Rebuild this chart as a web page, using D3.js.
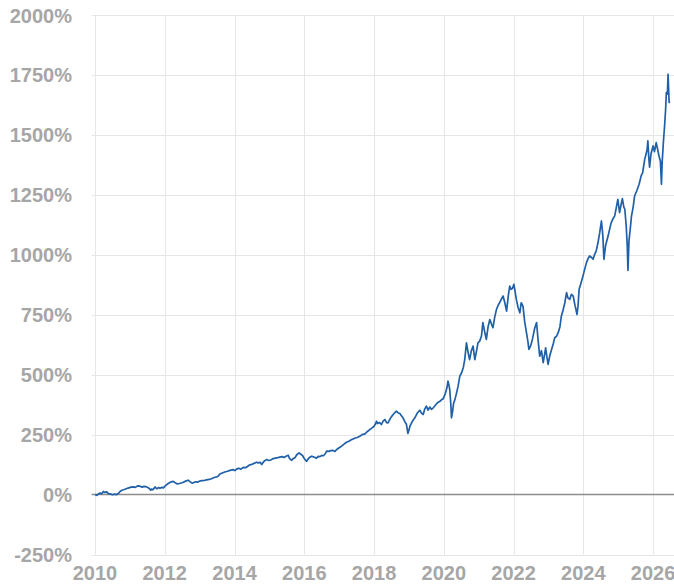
<!DOCTYPE html>
<html>
<head>
<meta charset="utf-8">
<script src="https://cdn.jsdelivr.net/npm/d3@7"></script>
<style>
  html, body { margin: 0; padding: 0; background: #fff; }
  svg { display: block; }
  .tick-label { font-family: "Liberation Sans", Arial, sans-serif; font-weight: bold; font-size: 20px; fill: #a6a6a6; }
</style>
</head>
<body>
<svg id="chart" width="674" height="585"></svg>
<script>
// Cumulative return series: decimal year and percent gain
const years = [
  2010.00,2010.05,2010.09,2010.15,2010.20,2010.24,2010.29,2010.34,2010.38,2010.43,2010.50,2010.56,2010.62,2010.68,2010.72,2010.77,2010.84,2010.91,2010.97,
  2011.03,2011.10,2011.16,2011.22,2011.29,2011.35,2011.41,2011.48,2011.55,2011.60,2011.62,2011.66,2011.72,2011.77,2011.82,2011.86,2011.92,2011.96,
  2012.03,2012.10,2012.17,2012.24,2012.30,2012.36,2012.42,2012.48,2012.53,2012.60,2012.67,2012.72,2012.78,2012.82,2012.88,2012.95,
  2013.01,2013.08,2013.14,2013.20,2013.27,2013.34,2013.40,2013.44,2013.50,2013.53,2013.58,2013.65,2013.72,2013.80,2013.87,2013.95,
  2014.01,2014.06,2014.12,2014.18,2014.25,2014.32,2014.38,2014.44,2014.50,2014.56,2014.63,2014.68,2014.74,2014.78,2014.84,2014.92,2014.98,
  2015.04,2015.11,2015.17,2015.24,2015.30,2015.36,2015.42,2015.48,2015.54,2015.58,2015.64,2015.68,2015.73,2015.78,2015.85,2015.90,2015.95,
  2016.00,2016.05,2016.07,2016.12,2016.16,2016.21,2016.27,2016.35,2016.40,2016.45,2016.50,2016.55,2016.60,2016.64,2016.70,2016.76,2016.83,2016.88,2016.93,
  2017.00,2017.07,2017.14,2017.21,2017.28,2017.34,2017.40,2017.46,2017.52,2017.59,2017.66,2017.74,2017.80,2017.88,2017.94,2017.99,
  2018.04,2018.07,2018.10,2018.12,2018.16,2018.21,2018.26,2018.31,2018.36,2018.40,2018.46,2018.50,2018.55,2018.60,2018.64,2018.70,2018.74,2018.78,2018.83,2018.88,2018.93,2018.97,
  2019.00,2019.03,2019.08,2019.12,2019.17,2019.24,2019.28,2019.31,2019.36,2019.41,2019.45,2019.50,2019.55,2019.60,2019.65,2019.70,2019.74,2019.80,2019.85,2019.89,2019.94,2019.98,
  2020.04,2020.09,2020.12,2020.15,2020.17,2020.20,2020.22,2020.25,2020.28,2020.32,2020.36,2020.41,2020.46,2020.51,2020.56,2020.60,2020.65,2020.70,2020.74,2020.79,2020.84,2020.89,2020.94,2020.98,
  2021.03,2021.08,2021.12,2021.17,2021.22,2021.27,2021.32,2021.37,2021.41,2021.46,2021.51,2021.56,2021.60,2021.65,2021.70,2021.75,2021.80,2021.85,2021.89,2021.93,2021.97,
  2022.01,2022.04,2022.08,2022.13,2022.18,2022.22,2022.27,2022.32,2022.37,2022.41,2022.44,2022.49,2022.54,2022.60,2022.66,2022.70,2022.75,2022.80,2022.85,2022.89,2022.92,2022.96,2022.99,
  2023.04,2023.09,2023.14,2023.18,2023.23,2023.28,2023.33,2023.37,2023.42,2023.47,2023.52,2023.56,2023.61,2023.66,2023.71,2023.76,2023.82,2023.85,2023.88,2023.93,2023.99,
  2024.04,2024.09,2024.14,2024.18,2024.23,2024.28,2024.32,2024.37,2024.42,2024.47,2024.52,2024.56,2024.59,2024.64,2024.71,2024.76,2024.80,2024.85,2024.90,2024.95,2024.99,
  2025.04,2025.09,2025.12,2025.16,2025.19,2025.23,2025.26,2025.28,2025.31,2025.34,2025.38,2025.43,2025.47,2025.53,2025.60,2025.66,2025.70,2025.76,2025.80,2025.83,2025.85,2025.88,2025.90,2025.94,
  2026.00,2026.04,2026.09,2026.13,2026.17,2026.21,2026.24,2026.26,2026.30,2026.33,2026.36,2026.38,2026.41,2026.43,2026.46,2026.48
];
const values = [
  0,-3,2,6,4,13,9,11,4,3,-1,2,0,6,13,18,21,25,28,
  31,32,30,36,35,31,34,32,26,18,23,20,32,24,29,26,30,28,
  38,46,52,55,49,44,46,48,51,56,60,54,48,49,53,52,
  57,58,59,61,63,66,70,72,74,77,86,90,94,97,101,104,
  100,106,110,106,113,112,118,124,126,130,135,132,134,125,138,146,142,
  144,150,152,154,156,158,155,160,164,150,143,150,153,165,174,168,163,
  150,141,139,150,156,160,157,152,159,158,163,162,170,181,180,183,184,180,188,
  195,202,210,218,222,228,232,236,238,243,250,253,262,271,278,283,
  294,306,296,299,300,292,306,313,300,299,316,325,334,342,348,340,338,330,320,305,292,255,
  268,285,300,310,320,340,346,352,340,334,355,369,352,365,355,362,369,380,386,389,396,399,
  420,445,473,455,438,380,320,345,380,397,420,452,494,508,530,563,633,590,563,600,619,563,600,633,
  640,661,717,680,647,700,730,710,696,740,772,790,800,815,828,800,765,830,869,856,860,
  877,850,814,780,758,800,786,720,675,640,605,620,647,690,717,650,577,600,550,585,612,570,543,
  580,605,630,654,660,675,700,744,770,800,842,820,814,835,828,790,751,790,856,880,911,
  940,967,985,995,990,981,1000,1016,1050,1092,1141,1080,981,1040,1078,1110,1134,1150,1162,1200,1231,
  1176,1215,1234,1200,1190,1120,1036,935,1060,1100,1160,1200,1245,1266,1294,1330,1342,1398,1420,1440,1475,1400,1365,1420,
  1454,1430,1468,1440,1412,1390,1294,1384,1480,1537,1607,1676,1670,1753,1635,1640
];
const yTicks = [-250, 0, 250, 500, 750, 1000, 1250, 1500, 1750, 2000];
const xTicks = [2010, 2012, 2014, 2016, 2018, 2020, 2022, 2024, 2026];

const svg = d3.select("#chart");
const plotLeft = 95, plotRight = 674, plotTop = 15, plotBottom = 554.5;

const x = d3.scaleLinear().domain([2010, 2026.6]).range([plotLeft, plotRight]);
const y = d3.scaleLinear().domain([-250, 2000]).range([plotBottom, plotTop]);

// Horizontal gridlines
svg.append("g").selectAll("line").data(yTicks.filter(d => d !== 0)).join("line")
  .attr("x1", plotLeft - 3.5).attr("x2", plotRight)
  .attr("y1", d => Math.round(y(d)) + 0.5).attr("y2", d => Math.round(y(d)) + 0.5)
  .attr("stroke", "#e6e6e6").attr("stroke-width", 1);

// Vertical gridlines
svg.append("g").selectAll("line").data(xTicks).join("line")
  .attr("x1", d => Math.round(x(d)) + 0.5).attr("x2", d => Math.round(x(d)) + 0.5)
  .attr("y1", plotTop).attr("y2", plotBottom)
  .attr("stroke", "#e6e6e6").attr("stroke-width", 1);

// Zero baseline
svg.append("line")
  .attr("x1", plotLeft - 3.5).attr("x2", plotRight)
  .attr("y1", y(0)).attr("y2", y(0))
  .attr("stroke", "#8c8c8c").attr("stroke-width", 1.5);

// Y axis labels
svg.append("g").selectAll("text").data(yTicks).join("text")
  .attr("class", "tick-label")
  .attr("x", 72).attr("y", d => y(d) + 7.5)
  .attr("text-anchor", "end")
  .text(d => d + "%");

// X axis labels
svg.append("g").selectAll("text").data(xTicks).join("text")
  .attr("class", "tick-label")
  .attr("x", d => x(d)).attr("y", 580)
  .attr("text-anchor", "middle")
  .text(d => d);

// Return line
const series = years.map((t, i) => ({ t, v: values[i] }));
const line = d3.line().x(d => x(d.t)).y(d => y(d.v));
svg.append("path")
  .datum(series)
  .attr("fill", "none")
  .attr("stroke", "#1f60a9")
  .attr("stroke-width", 1.7)
  .attr("stroke-linejoin", "round")
  .attr("d", line);
</script>
</body>
</html>
